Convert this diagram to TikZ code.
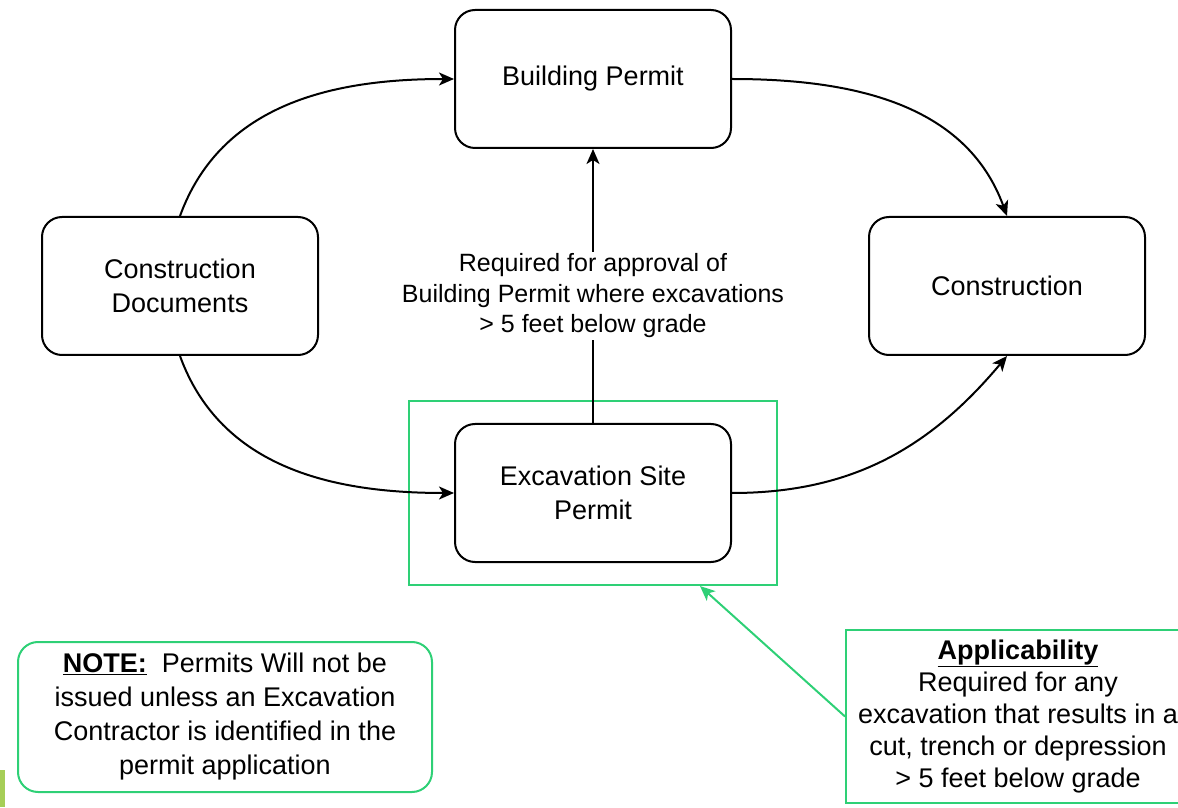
\documentclass[tikz,border=0pt]{standalone}
\usepackage{fontspec}
\setmainfont{Liberation Sans}
\usetikzlibrary{arrows.meta, positioning}
\definecolor{zonegreen}{RGB}{46,208,118}
\definecolor{barolive}{RGB}{166,206,87}

\begin{document}
\begin{tikzpicture}[x=1pt, y=1pt,
    stagebox/.style={draw, line width=2pt, rounded corners=20pt,
        minimum width=276pt, minimum height=138pt, align=center,
        font=\fontsize{27}{34}\selectfont},
    flow/.style={line width=2pt, -{Stealth[length=15pt, width=13pt, inset=4pt]}},
    greenflow/.style={draw=zonegreen, line width=2pt,
        -{Stealth[length=15pt, width=13pt, inset=4pt]}},
    notebox/.style={draw=zonegreen, line width=2pt, align=center,
        font=\fontsize{27}{34}\selectfont}]

    \useasboundingbox (0,0) rectangle (1178,807);
    \clip (0,0) rectangle (1178,807);

    % STAGES
    \node[stagebox] (bldg) at (593,728) {Building Permit};
    \node[stagebox] (constdocs) at (180,521) {Construction\\Documents};
    \node[stagebox] (constr) at (1007,521) {Construction};
    \node[draw=zonegreen, line width=2pt, minimum width=368pt,
        minimum height=184pt] (excavzone) at (593,314) {};
    \node[stagebox] (excav) at (593,314) {Excavation Site\\Permit};

    % FLOW BETWEEN STAGES
    \draw[flow] (constdocs.north) to[out=70, in=180] (bldg.west);
    \draw[flow] (bldg.east) to[out=0, in=110] (constr.north);
    \draw[flow] (constdocs.south) to[out=-70, in=180] (excav.west);
    \draw[flow] (excav.east) to[out=0, in=-130] (constr.south);
    \draw[flow] (excav.north) -- (bldg.south)
        node[pos=0.464, fill=white, inner sep=2pt, align=center,
            font=\fontsize{25}{30.5}\selectfont]
        {Required for approval of\\Building Permit where excavations\\> 5 feet below grade};

    % NOTES
    \node[notebox, rounded corners=20pt, minimum width=414pt,
        minimum height=150pt] (note) at (225,90)
        {\underline{\textbf{NOTE:}}\ \ Permits Will not be\\issued unless an Excavation\\Contractor is identified in the\\permit application};
    \node[notebox, minimum width=344pt, minimum height=173pt,
        font=\fontsize{27}{32}\selectfont] (applic) at (1018,90.5)
        {\underline{\textbf{Applicability}}\\Required for any\\excavation that results in a\\cut, trench or depression\\> 5 feet below grade};
    \draw[greenflow] (applic.west) -- (excavzone.-41);

    % EDGE MARK
    \fill[barolive] (0,0) rectangle (5,37);

\end{tikzpicture}
\end{document}
